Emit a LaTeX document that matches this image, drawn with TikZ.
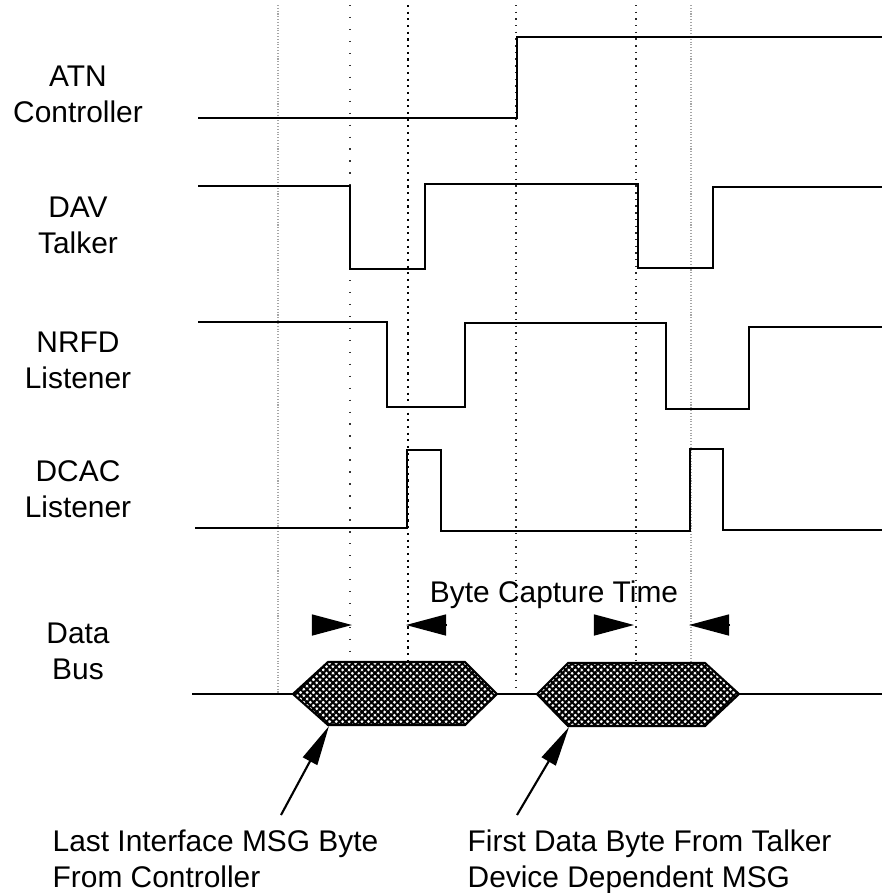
\documentclass[tikz,border=0pt]{standalone}
\usepackage{fontspec}
\setmainfont{Liberation Sans}
\usepackage{tikz}
\usetikzlibrary{arrows.meta,patterns.meta}

\begin{document}
\begin{tikzpicture}[
    x=0.01cm, y=-0.01cm,
    sig/.style={align=center, font=\fontsize{8.5}{10.2}\selectfont},
    note/.style={align=left, anchor=north west, inner sep=0pt, font=\fontsize{8.5}{10.2}\selectfont},
    wave/.style={line width=0.8pt, line join=miter},
    hexa/.style={draw, line width=0.6pt, pattern={Lines[angle=45,distance=1.3pt,line width=0.6pt]},
      postaction={pattern={Lines[angle=-45,distance=1.3pt,line width=0.6pt]}}},
    gridthin/.style={gray!70, line width=0.35pt, dash pattern=on 0.3pt off 0.5pt},
    gridsparse/.style={black!80, line width=0.4pt, dash pattern=on 0.4pt off 3pt},
    gridmid/.style={black!85, line width=0.45pt, dash pattern=on 0.4pt off 1.5pt},
    gridbold/.style={black, line width=0.8pt, dash pattern=on 0.6pt off 1.3pt},
    capmark/.style={-{Triangle[length=0.4cm,width=0.21cm]}},
    ptr/.style={-{Triangle[length=0.4cm,width=0.16cm]}, line width=0.6pt},
  ]
    \useasboundingbox (0,0) rectangle (882,893);

    % Reference lines
    \draw[gridthin] (278,5) -- (278,694);
    \draw[gridsparse] (350,5) -- (350,662);
    \draw[gridbold] (408,5) -- (408,662);
    \draw[gridmid] (516,5) -- (516,694);
    \draw[gridmid] (636,5) -- (636,663);
    \draw[gridthin] (691,5) -- (691,663);

    % Signal names
    \node[sig] (atn) at (78,94.5) {ATN\\Controller};
    \node[sig] (dav) at (78,225.5) {DAV\\Talker};
    \node[sig] (nrfd) at (78,360) {NRFD\\Listener};
    \node[sig] (dcac) at (78,489.5) {DCAC\\Listener};
    \node[sig] (bus) at (78,651.5) {Data\\Bus};

    % Waveforms
    \draw[wave] (198,118) -- (517,118) |- (882,37);
    \draw[wave] (198,186) -| (350,269) -| (425,184) -| (638,268) -| (713,187) -- (882,187);
    \draw[wave] (198,322) -| (387,407) -| (465,323) -| (666,409) -| (749,327) -- (882,327);
    \draw[wave] (195,528) -| (407,450) -| (441,531) -| (690,449) -| (723,530) -- (882,530);

    % Data bus
    \draw[wave] (192,694) -- (293,694);
    \draw[hexa] (293,694) -- (328,662) -- (465,662) -- (497,694) -- (465,725) -- (328,725) -- cycle;
    \draw[wave, line width=0.6pt] (497,694) -- (537,694);
    \draw[hexa] (537,694) -- (568,663) -- (705,663) -- (739,694) -- (705,726) -- (568,726) -- cycle;
    \draw[wave] (739,694) -- (882,694);

    % Byte capture time
    \node[sig, anchor=base] (bct) at (554,602) {Byte Capture Time};
    \draw[capmark] (312,625) -- (352,625);
    \draw[capmark] (446,625) -- (406,625);
    \draw[capmark] (594,625) -- (634,625);
    \draw[capmark] (730,625) -- (689,625);

    % Notes
    \node[note] (lastmsg) at (52,829) {Last Interface MSG Byte\\From Controller};
    \node[note] (firstdb) at (467,829) {First Data Byte From Talker\\Device Dependent MSG};
    \coordinate (h1) at (329,726);
    \coordinate (h2) at (569,727);
    \coordinate (t1) at (281,815);
    \coordinate (t2) at (517,815);
    \draw[ptr] (t1) -- (h1);
    \draw[ptr] (t2) -- (h2);

  \end{tikzpicture}
\end{document}
